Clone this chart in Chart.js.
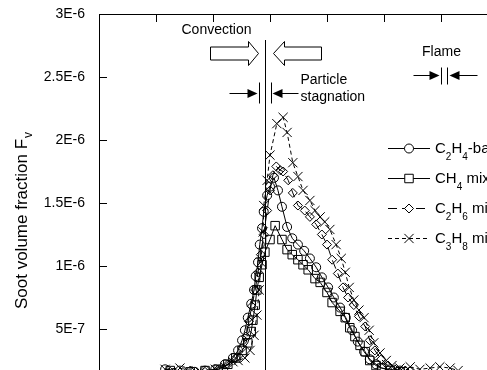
<!DOCTYPE html>
<html>
<head>
<meta charset="utf-8">
<script src="https://cdn.jsdelivr.net/npm/chart.js@4.4.1/dist/chart.umd.min.js"></script>
<style>
  html, body { margin: 0; padding: 0; background: #fff; overflow: hidden; width: 487px; height: 370px; }
  #wrap { position: absolute; left: 0; top: 0; width: 600px; height: 400px; }
</style>
</head>
<body>
<div id="wrap"><canvas id="sootChart" width="600" height="400"></canvas></div>
<script>
// distance (mm) / soot volume fraction in units of 1E-6
const c2h4X = [1.16,1.42,1.68,1.86,2.04,2.21,2.35,2.44,2.51,2.56,2.61,2.67,2.72,2.75,2.79,2.82,2.86,2.89,2.95,3.00,3.07,3.14,3.21,3.30,3.39,3.49,3.60,3.70,3.81,3.91,4.02,4.12,4.23,4.33,4.44,4.54,4.65,4.75,4.86,4.96,5.11,5.28,5.46];
const c2h4Y = [0.18,0.17,0.16,0.17,0.18,0.22,0.27,0.33,0.41,0.49,0.59,0.70,0.81,0.92,1.03,1.17,1.30,1.43,1.56,1.63,1.70,1.60,1.47,1.31,1.22,1.17,1.12,1.06,0.99,0.91,0.83,0.75,0.67,0.59,0.49,0.40,0.32,0.26,0.22,0.19,0.18,0.17,0.16];

const ch4X = [1.25,1.60,1.86,2.09,2.26,2.40,2.51,2.61,2.67,2.70,2.74,2.77,2.81,2.86,2.91,3.00,3.09,3.21,3.30,3.39,3.49,3.58,3.67,3.79,3.88,4.00,4.09,4.23,4.32,4.40,4.49,4.58,4.67,4.75,4.86,4.96,5.11,5.28];
const ch4Y = [0.17,0.16,0.17,0.18,0.22,0.27,0.33,0.39,0.48,0.57,0.69,0.81,0.91,1.01,1.11,1.21,1.32,1.21,1.13,1.09,1.05,1.01,0.97,0.90,0.87,0.79,0.71,0.64,0.59,0.51,0.44,0.37,0.32,0.25,0.21,0.19,0.17,0.16];

const c2h6X = [1.25,1.60,1.86,2.09,2.26,2.40,2.51,2.58,2.63,2.68,2.74,2.79,2.84,2.89,2.95,3.00,3.05,3.11,3.18,3.23,3.32,3.40,3.49,3.61,3.70,3.81,3.91,4.00,4.09,4.19,4.28,4.37,4.47,4.56,4.67,4.75,4.84,4.95,5.07,5.19,5.37];
const c2h6Y = [0.16,0.17,0.16,0.18,0.22,0.27,0.35,0.44,0.56,0.68,0.81,0.95,1.09,1.25,1.44,1.60,1.72,1.79,1.76,1.75,1.68,1.58,1.48,1.44,1.39,1.33,1.25,1.17,1.05,0.94,0.83,0.75,0.69,0.60,0.52,0.41,0.33,0.26,0.21,0.18,0.17];

const c3h8X = [1.16,1.42,1.56,1.77,2.04,2.21,2.35,2.44,2.56,2.65,2.72,2.77,2.81,2.84,2.88,2.89,2.95,3.00,3.12,3.23,3.30,3.40,3.49,3.58,3.70,3.79,3.88,3.96,4.05,4.16,4.25,4.32,4.39,4.47,4.56,4.65,4.74,4.82,4.93,5.04,5.14,5.28,5.46,5.63,5.81,5.98,6.16,6.30];
const c3h8Y = [0.18,0.19,0.17,0.16,0.18,0.20,0.24,0.25,0.27,0.33,0.45,0.61,0.81,1.03,1.27,1.48,1.68,1.88,2.13,2.18,2.06,1.82,1.71,1.60,1.52,1.44,1.39,1.35,1.29,1.17,1.06,0.95,0.83,0.73,0.65,0.59,0.49,0.39,0.31,0.25,0.21,0.19,0.20,0.18,0.19,0.20,0.19,0.17];

const seriesNames = ['C2H4-based', 'CH4 mix', 'C2H6 mix', 'C3H8 mix'];
const yTicks = [0, 0.5, 1, 1.5, 2, 2.5, 3];
const yTickLabels = ['0', '5E-7', '1E-6', '1.5E-6', '2E-6', '2.5E-6', '3E-6'];
const yTitle = ['Soot volume fraction F', 'v'];

const stagX = 2.91;   // particle stagnation plane
const flameX = 6.05;  // flame position

const FONT = 'Arial, "Liberation Sans", Helvetica, sans-serif';
const pts = (xs, ys) => xs.map((x, i) => ({ x: x, y: ys[i] }));

function line(ctx, x1, y1, x2, y2) {
  ctx.beginPath(); ctx.moveTo(x1, y1); ctx.lineTo(x2, y2); ctx.stroke();
}

function arrow(ctx, from, tip, y) {
  const dir = Math.sign(tip - from);
  line(ctx, from, y, tip - dir * 8, y);
  ctx.beginPath();
  ctx.moveTo(tip, y);
  ctx.lineTo(tip - dir * 10, y - 4.5);
  ctx.lineTo(tip - dir * 10, y + 4.5);
  ctx.closePath(); ctx.fill();
}

function blockArrow(ctx, tail, base, tip, y) {
  ctx.beginPath();
  ctx.moveTo(tail, y - 6.5);
  ctx.lineTo(base, y - 6.5);
  ctx.lineTo(base, y - 12);
  ctx.lineTo(tip, y);
  ctx.lineTo(base, y + 12);
  ctx.lineTo(base, y + 6.5);
  ctx.lineTo(tail, y + 6.5);
  ctx.closePath();
  ctx.fillStyle = '#fff'; ctx.fill();
  ctx.stroke();
  ctx.fillStyle = '#000';
}

// draws a formula such as C2H4-based with subscript digits
function drawChem(ctx, text, x, y) {
  let cx = x;
  const parts = text.match(/\d+|[^\d]+/g);
  parts.forEach(p => {
    const sub = /^\d+$/.test(p);
    ctx.font = (sub ? '10px ' : '15px ') + FONT;
    ctx.fillText(p, cx, sub ? y + 9 : y);
    cx += ctx.measureText(p).width;
  });
}

const decor = {
  id: 'decor',
  afterDraw(chart) {
    const { ctx, chartArea: a, scales: { x, y } } = chart;
    ctx.save();
    ctx.strokeStyle = '#000'; ctx.fillStyle = '#000'; ctx.lineWidth = 1;

    // top frame + inward ticks
    line(ctx, a.left, a.top + 0.5, a.right, a.top + 0.5);
    x.ticks.forEach(t => {
      const px = Math.round(x.getPixelForValue(t.value)) + 0.5;
      if (px > a.left + 2 && px < a.right - 2) line(ctx, px, a.top, px, a.top + 8);
    });
    y.ticks.forEach(t => {
      const py = Math.round(y.getPixelForValue(t.value)) + 0.5;
      line(ctx, a.left, py, a.left + 8, py);
    });

    // y title with subscript
    ctx.save();
    ctx.translate(22, 221);
    ctx.rotate(-Math.PI / 2);
    ctx.font = '17px ' + FONT;
    ctx.textBaseline = 'middle';
    const w1 = ctx.measureText(yTitle[0]).width;
    ctx.font = '12px ' + FONT;
    const w2 = ctx.measureText(yTitle[1]).width;
    const start = -(w1 + w2) / 2;
    ctx.font = '17px ' + FONT;
    ctx.fillText(yTitle[0], start, 0);
    ctx.font = '12px ' + FONT;
    ctx.fillText(yTitle[1], start + w1 + 1, 7);
    ctx.restore();

    // stagnation plane
    const sx = Math.round(x.getPixelForValue(stagX)) + 0.5;
    line(ctx, sx, a.top + 26, sx, a.bottom);

    // convection arrows
    ctx.font = '14px ' + FONT;
    ctx.textBaseline = 'middle';
    ctx.textAlign = 'center';
    ctx.fillText('Convection', sx - 49, a.top + 16);
    blockArrow(ctx, sx - 55, sx - 17, sx - 7, a.top + 39.5);
    blockArrow(ctx, sx + 56, sx + 19, sx + 8, a.top + 39.5);

    // particle stagnation
    const ay = a.top + 79.5;
    line(ctx, sx - 6, ay - 11, sx - 6, ay + 10);
    line(ctx, sx + 6, ay - 11, sx + 6, ay + 10);
    arrow(ctx, sx - 36, sx - 8, ay);
    arrow(ctx, sx + 33, sx + 7, ay);
    ctx.textAlign = 'left';
    ctx.fillText('Particle', sx + 35, a.top + 66);
    ctx.fillText('stagnation', sx + 35, a.top + 83);

    // flame
    const fx = Math.round(x.getPixelForValue(flameX)) + 0.5;
    const fy = a.top + 61.5;
    ctx.textAlign = 'center';
    ctx.fillText('Flame', fx - 3, a.top + 38);
    line(ctx, fx - 3, fy - 8, fx - 3, fy + 9);
    line(ctx, fx + 3, fy - 8, fx + 3, fy + 9);
    arrow(ctx, fx - 31, fx - 5, fy);
    arrow(ctx, fx + 33, fx + 5, fy);

    // legend
    ctx.textAlign = 'left';
    chart.data.datasets.forEach((ds, i) => {
      const ly = 148 + i * 30 + 0.5;
      ctx.save();
      ctx.setLineDash(ds.borderDash || []);
      line(ctx, 388, ly, 430, ly);
      ctx.restore();
      ctx.fillStyle = '#fff';
      Chart.helpers.drawPoint(ctx, {
        pointStyle: ds.pointStyle, radius: ds.pointRadius, rotation: 0, borderWidth: 1
      }, 409, ly);
      ctx.fillStyle = '#000';
      drawChem(ctx, ds.label, 435, ly);
    });
    ctx.restore();
  }
};

const common = {
  showLine: true, borderColor: '#000', borderWidth: 1, fill: false, tension: 0,
  pointBorderColor: '#000', pointBackgroundColor: 'rgba(0,0,0,0)', pointBorderWidth: 1
};

new Chart(document.getElementById('sootChart'), {
  type: 'scatter',
  data: {
    datasets: [
      { ...common, label: seriesNames[0], data: pts(c2h4X, c2h4Y), pointStyle: 'circle', pointRadius: 4.5, borderDash: [] },
      { ...common, label: seriesNames[1], data: pts(ch4X, ch4Y), pointStyle: 'rect', pointRadius: 6, borderDash: [] },
      { ...common, label: seriesNames[2], data: pts(c2h6X, c2h6Y), pointStyle: 'rectRot', pointRadius: 4.5, borderDash: [9, 5] },
      { ...common, label: seriesNames[3], data: pts(c3h8X, c3h8Y), pointStyle: 'crossRot', pointRadius: 6.5, borderDash: [4, 3] },
    ],
  },
  options: {
    responsive: false,
    animation: false,
    devicePixelRatio: 1,
    layout: { padding: { left: 0, top: 14, right: 45, bottom: 0 } },
    plugins: { legend: { display: false }, tooltip: { enabled: false } },
    scales: {
      x: {
        type: 'linear', position: 'bottom', min: 0, max: 8,
        ticks: { display: false, stepSize: 1 },
        grid: { display: false },
        border: { display: true, color: '#000', width: 1 },
        afterFit: s => { s.height = 8; s.paddingLeft = 0; s.paddingRight = 0; },
      },
      y: {
        min: 0, max: 3,
        afterBuildTicks: s => { s.ticks = yTicks.map(v => ({ value: v })); },
        ticks: {
          color: '#000', padding: 14,
          font: { family: FONT, size: 14 },
          callback: (v, i) => yTickLabels[i],
        },
        grid: { display: false, drawTicks: false },
        border: { display: true, color: '#000', width: 1 },
        afterFit: s => { s.width = 99; s.paddingTop = 0; s.paddingBottom = 0; },
      },
    },
  },
  plugins: [decor],
});
</script>
</body>
</html>
